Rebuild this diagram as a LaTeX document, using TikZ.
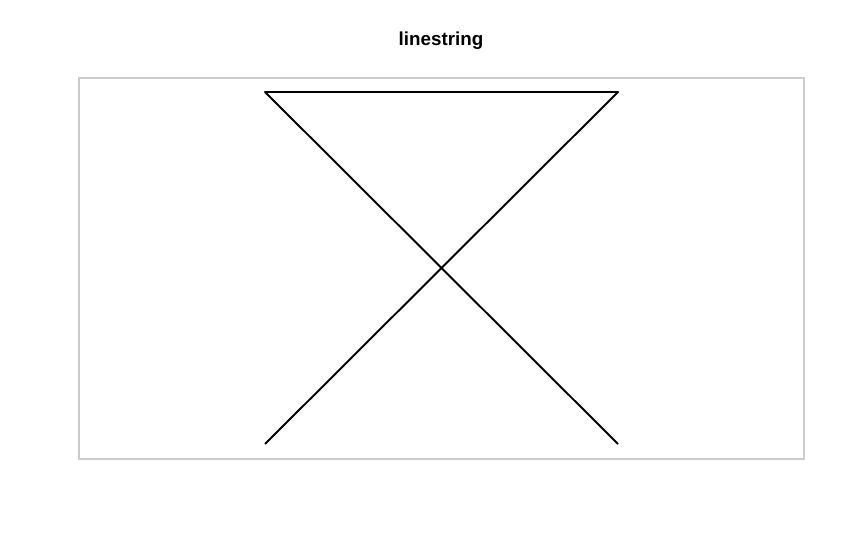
\documentclass[tikz,border=0pt]{standalone}
\usepackage{fontspec}
\setmainfont{Liberation Sans}
\usetikzlibrary{positioning}
\definecolor{frame}{HTML}{CCCCCC}
\tikzset{panel/.style={draw=frame,line width=0.6pt},geom/.style={draw=black,line width=1.1pt,line join=round},title/.style={font=\bfseries\fontsize{10.7}{13}\selectfont,inner sep=0pt}}
\begin{document}
\begin{tikzpicture}[x=0.02cm,y=-0.02cm]
\useasboundingbox (0,0) rectangle (845,557);
\node[title] (t) at (441,41) {linestring};
\draw[panel] (79,78) rectangle (804,459);
\coordinate (p1) at (265,444);
\coordinate (p2) at (618,92);
\coordinate (p3) at (265,92);
\coordinate (p4) at (618,444);
\draw[geom] (p1)--(p2)--(p3)--(p4);
\end{tikzpicture}
\end{document}
